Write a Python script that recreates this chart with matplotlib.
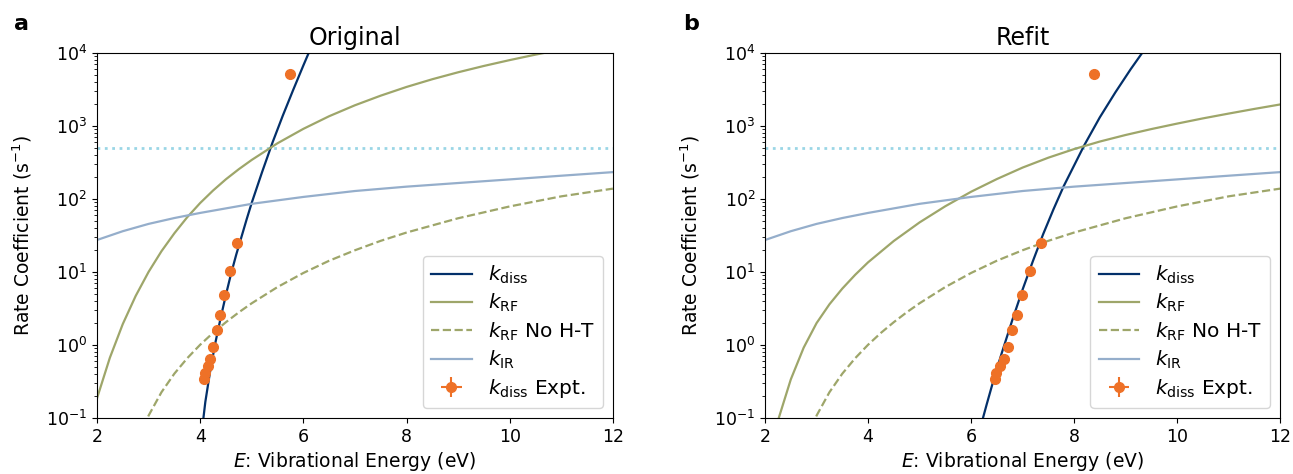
import matplotlib
matplotlib.use("Agg")
import matplotlib.pyplot as plt
import numpy as np

# ---- data ----
# k_IR and k_RF "No H-T" are the same in both panels
E_ir = [2, 2.5, 3, 3.5, 4, 5, 6, 7, 8, 9, 10, 11, 12]
k_ir = [27.5, 36.3, 45.7, 55.0, 64.6, 86.1, 107, 129, 148, 166, 186, 209, 234]

E_noht = [2.9, 3.0, 3.25, 3.5, 3.75, 4.0, 4.25, 4.5, 4.75, 5.0, 5.5, 6.0, 6.5,
          7.0, 7.5, 8.0, 9.0, 10.0, 11.0, 12.0]
k_noht = [0.075, 0.108, 0.226, 0.406, 0.661, 1.01, 1.47, 2.06, 2.81, 3.74, 6.24,
          9.72, 14.3, 19.9, 26.8, 34.8, 54.6, 79.3, 109, 139]

# panel a: original
E_diss_a = [4.0, 4.1, 4.2, 4.3, 4.4, 4.5, 4.6, 4.7, 4.8, 4.9, 5.0, 5.2, 5.4, 5.6, 5.8, 6.0, 6.2]
k_diss_a = [0.042, 0.166, 0.468, 1.12, 2.40, 4.90, 9.55, 17.4, 30.2, 52.5, 89.1,
            234, 589, 1380, 3090, 6760, 14500]

E_rf_a = [2.0, 2.25, 2.5, 2.75, 3.0, 3.25, 3.5, 3.75, 4.0, 4.25, 4.5, 4.75, 5.0,
          5.5, 6.0, 6.5, 7.0, 7.5, 8.0, 8.5, 9.0, 9.5, 10.0, 10.5, 11.0, 11.5]
k_rf_a = [0.186, 0.671, 1.94, 4.71, 10.05, 19.3, 34.0, 56.5, 88.3, 131, 187, 257,
          344, 582, 916, 1365, 1928, 2612, 3436, 4385, 5458, 6668, 8017, 9528,
          11190, 13030]

# panel b: refit
E_diss_b = [6.1, 6.2, 6.3, 6.4, 6.5, 6.6, 6.8, 7.0, 7.2, 7.4, 7.6, 7.8, 8.0, 8.2,
            8.5, 8.8, 9.1, 9.4]
k_diss_b = [0.0457, 0.0832, 0.151, 0.269, 0.468, 0.794, 2.19, 5.75, 14.1, 33.1,
            72.4, 151, 288, 550, 1318, 2884, 6026, 12020]

E_rf_b = [2.2, 2.25, 2.5, 2.75, 3.0, 3.25, 3.5, 3.75, 4.0, 4.5, 5.0, 5.5, 6.0,
          6.5, 7.0, 7.5, 8.0, 8.5, 9.0, 9.5, 10.0, 10.5, 11.0, 11.5, 12.0]
k_rf_b = [0.0676, 0.0923, 0.339, 0.923, 2.0, 3.62, 5.94, 9.18, 13.6, 26.7, 47.9,
          79.8, 126, 188, 270, 369, 484, 614, 755, 910, 1081, 1274, 1483, 1718, 1977]

# experimental dissociation rates
k_expt = [0.34, 0.42, 0.52, 0.65, 0.95, 1.62, 2.58, 4.8, 10.3, 25, 5250]
E_expt_a = [4.08, 4.10, 4.155, 4.20, 4.25, 4.32, 4.39, 4.47, 4.58, 4.72, 5.74]
E_expt_b = [6.47, 6.49, 6.57, 6.63, 6.71, 6.79, 6.89, 6.99, 7.15, 7.35, 8.38]

k_ref = 500  # dotted reference level

c_diss = '#03306A'
c_rf = '#9EA66A'
c_ir = '#95AECB'
c_ref = '#9AD6E6'
c_expt = '#EE7127'

fig = plt.figure(figsize=(12.93, 4.74), dpi=100)
ax_a = fig.add_axes([0.075, 0.118, 0.399, 0.77])
ax_b = fig.add_axes([0.5917, 0.118, 0.3983, 0.77])

panels = [
    (ax_a, 'Original', 'a', E_diss_a, k_diss_a, E_rf_a, k_rf_a, E_expt_a),
    (ax_b, 'Refit', 'b', E_diss_b, k_diss_b, E_rf_b, k_rf_b, E_expt_b),
]

for ax, title, letter, Ed, kd, Er, kr, Ee in panels:
    ax.axhline(k_ref, color=c_ref, ls=':', lw=2)
    ax.plot(Ed, kd, color=c_diss, lw=1.6, label=r'$k_\mathrm{diss}$')
    ax.plot(Er, kr, color=c_rf, lw=1.6, label=r'$k_\mathrm{RF}$')
    ax.plot(E_noht, k_noht, color=c_rf, lw=1.6, ls='--', label=r'$k_\mathrm{RF}$ No H-T')
    ax.plot(E_ir, k_ir, color=c_ir, lw=1.6, label=r'$k_\mathrm{IR}$')
    ax.errorbar(Ee, k_expt, xerr=0, yerr=0, fmt='o', color=c_expt, ms=7,
                label=r'$k_\mathrm{diss}$ Expt.')
    ax.set_yscale('log')
    ax.set_xlim(2, 12)
    ax.set_ylim(0.1, 1e4)
    ax.set_xlabel(r'$E$: Vibrational Energy (eV)', fontsize=13.5, labelpad=3)
    ax.set_ylabel(r'Rate Coefficient (s$^{-1}$)', fontsize=13.5, labelpad=9)
    ax.set_title(title, fontsize=17)
    ax.tick_params(labelsize=12.5)
    ax.legend(loc='lower right', fontsize=14.5, labelspacing=0.3)
    ax.text(-0.16, 1.08, letter, transform=ax.transAxes, fontsize=16,
            fontweight='bold', va='center')

fig.savefig('out.png', dpi=100)
